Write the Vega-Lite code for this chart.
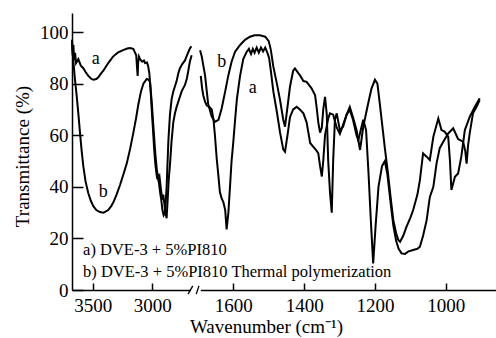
{
  "$schema": "https://vega.github.io/schema/vega-lite/v6.json",
  "autosize": {"type": "none"},
  "width": 424,
  "height": 277,
  "padding": {"left": 72, "top": 13, "right": 0, "bottom": 48},
  "background": "white",
  "config": {"view": {"stroke": null}, "font": "Liberation Serif"},
  "datasets": {
    "curves": [
      {"w":3674,"t":97,"g":"aL"},{"w":3668,"t":91,"g":"aL"},{"w":3662,"t":95,"g":"aL"},{"w":3656,"t":89,"g":"aL"},{"w":3648,"t":92,"g":"aL"},{"w":3640,"t":88,"g":"aL"},{"w":3621,"t":89.5,"g":"aL"},{"w":3600,"t":87,"g":"aL"},{"w":3579,"t":86,"g":"aL"},{"w":3560,"t":84.5,"g":"aL"},{"w":3537,"t":83,"g":"aL"},{"w":3515,"t":82,"g":"aL"},{"w":3495,"t":81.5,"g":"aL"},{"w":3470,"t":81.8,"g":"aL"},{"w":3453,"t":82.5,"g":"aL"},{"w":3430,"t":84,"g":"aL"},{"w":3411,"t":85,"g":"aL"},{"w":3370,"t":88,"g":"aL"},{"w":3330,"t":90.5,"g":"aL"},{"w":3290,"t":92,"g":"aL"},{"w":3246,"t":93,"g":"aL"},{"w":3210,"t":93.6,"g":"aL"},{"w":3187,"t":93.8,"g":"aL"},{"w":3160,"t":93.5,"g":"aL"},{"w":3150,"t":92.5,"g":"aL"},{"w":3135,"t":91,"g":"aL"},{"w":3128,"t":86,"g":"aL"},{"w":3123,"t":83,"g":"aL"},{"w":3119,"t":88,"g":"aL"},{"w":3112,"t":90.5,"g":"aL"},{"w":3103,"t":89.5,"g":"aL"},{"w":3085,"t":88.5,"g":"aL"},{"w":3070,"t":89,"g":"aL"},{"w":3061,"t":88,"g":"aL"},{"w":3045,"t":88.2,"g":"aL"},{"w":3036,"t":87,"g":"aL"},{"w":3025,"t":84,"g":"aL"},{"w":3015,"t":78,"g":"aL"},{"w":3005,"t":70,"g":"aL"},{"w":2994,"t":62,"g":"aL"},{"w":2985,"t":55,"g":"aL"},{"w":2975,"t":49,"g":"aL"},{"w":2965,"t":45,"g":"aL"},{"w":2958,"t":43,"g":"aL"},{"w":2950,"t":45,"g":"aL"},{"w":2943,"t":41,"g":"aL"},{"w":2935,"t":38,"g":"aL"},{"w":2925,"t":35,"g":"aL"},{"w":2915,"t":31,"g":"aL"},{"w":2905,"t":29,"g":"aL"},{"w":2893,"t":30,"g":"aL"},{"w":2880,"t":40,"g":"aL"},{"w":2865,"t":58,"g":"aL"},{"w":2852,"t":68,"g":"aL"},{"w":2838,"t":74,"g":"aL"},{"w":2824,"t":77,"g":"aL"},{"w":2810,"t":79,"g":"aL"},{"w":2796,"t":81,"g":"aL"},{"w":2782,"t":84,"g":"aL"},{"w":2768,"t":86,"g":"aL"},{"w":2750,"t":87.5,"g":"aL"},{"w":2726,"t":89,"g":"aL"},{"w":2705,"t":91.5,"g":"aL"},{"w":2684,"t":93.7,"g":"aL"},{"w":2672,"t":94.5,"g":"aL"},

      {"w":3674,"t":96,"g":"bL"},{"w":3665,"t":90,"g":"bL"},{"w":3650,"t":82,"g":"bL"},{"w":3634,"t":75,"g":"bL"},{"w":3620,"t":68,"g":"bL"},{"w":3607,"t":61,"g":"bL"},{"w":3593,"t":54,"g":"bL"},{"w":3579,"t":48,"g":"bL"},{"w":3560,"t":42,"g":"bL"},{"w":3537,"t":37.5,"g":"bL"},{"w":3515,"t":34.5,"g":"bL"},{"w":3495,"t":32.5,"g":"bL"},{"w":3470,"t":31,"g":"bL"},{"w":3439,"t":30.2,"g":"bL"},{"w":3410,"t":30,"g":"bL"},{"w":3397,"t":30.3,"g":"bL"},{"w":3370,"t":31,"g":"bL"},{"w":3345,"t":32.5,"g":"bL"},{"w":3327,"t":34,"g":"bL"},{"w":3300,"t":37,"g":"bL"},{"w":3271,"t":40.7,"g":"bL"},{"w":3245,"t":44.5,"g":"bL"},{"w":3215,"t":49,"g":"bL"},{"w":3185,"t":55,"g":"bL"},{"w":3159,"t":61,"g":"bL"},{"w":3135,"t":67,"g":"bL"},{"w":3117,"t":72,"g":"bL"},{"w":3095,"t":77,"g":"bL"},{"w":3075,"t":80,"g":"bL"},{"w":3047,"t":81.8,"g":"bL"},{"w":3030,"t":81.5,"g":"bL"},{"w":3019,"t":80.5,"g":"bL"},{"w":3005,"t":73,"g":"bL"},{"w":2992,"t":64,"g":"bL"},{"w":2975,"t":53,"g":"bL"},{"w":2963,"t":47,"g":"bL"},{"w":2950,"t":43,"g":"bL"},{"w":2940,"t":44,"g":"bL"},{"w":2935,"t":42,"g":"bL"},{"w":2925,"t":38,"g":"bL"},{"w":2915,"t":35,"g":"bL"},{"w":2908,"t":37,"g":"bL"},{"w":2900,"t":34,"g":"bL"},{"w":2893,"t":31,"g":"bL"},{"w":2880,"t":27.8,"g":"bL"},{"w":2870,"t":36,"g":"bL"},{"w":2862,"t":43,"g":"bL"},{"w":2852,"t":48.5,"g":"bL"},{"w":2838,"t":58,"g":"bL"},{"w":2824,"t":65,"g":"bL"},{"w":2810,"t":68.5,"g":"bL"},{"w":2796,"t":71,"g":"bL"},{"w":2775,"t":74,"g":"bL"},{"w":2754,"t":77,"g":"bL"},{"w":2726,"t":79.5,"g":"bL"},{"w":2710,"t":82,"g":"bL"},{"w":2698,"t":85,"g":"bL"},{"w":2685,"t":88.5,"g":"bL"},{"w":2670,"t":91,"g":"bL"},

      {"w":1692,"t":83,"g":"aR"},{"w":1688,"t":78,"g":"aR"},{"w":1685,"t":75.5,"g":"aR"},{"w":1680,"t":73,"g":"aR"},{"w":1675,"t":71.5,"g":"aR"},{"w":1668,"t":71,"g":"aR"},{"w":1661,"t":70,"g":"aR"},{"w":1656,"t":66,"g":"aR"},{"w":1652,"t":60,"g":"aR"},{"w":1647,"t":51,"g":"aR"},{"w":1642,"t":44,"g":"aR"},{"w":1638,"t":38,"g":"aR"},{"w":1633,"t":35.5,"g":"aR"},{"w":1628,"t":34,"g":"aR"},{"w":1623,"t":31,"g":"aR"},{"w":1619,"t":23.5,"g":"aR"},{"w":1614,"t":30,"g":"aR"},{"w":1609,"t":41,"g":"aR"},{"w":1605,"t":50,"g":"aR"},{"w":1600,"t":57.5,"g":"aR"},{"w":1595,"t":66,"g":"aR"},{"w":1590,"t":74,"g":"aR"},{"w":1581,"t":83,"g":"aR"},{"w":1572,"t":89.5,"g":"aR"},{"w":1562,"t":92.4,"g":"aR"},{"w":1556,"t":93.5,"g":"aR"},{"w":1550,"t":91.5,"g":"aR"},{"w":1545,"t":93.5,"g":"aR"},{"w":1540,"t":92,"g":"aR"},{"w":1534,"t":94,"g":"aR"},{"w":1528,"t":92,"g":"aR"},{"w":1522,"t":94,"g":"aR"},{"w":1516,"t":92.5,"g":"aR"},{"w":1510,"t":94,"g":"aR"},{"w":1504,"t":92,"g":"aR"},{"w":1499,"t":90,"g":"aR"},{"w":1494,"t":85,"g":"aR"},{"w":1487,"t":77,"g":"aR"},{"w":1477,"t":69,"g":"aR"},{"w":1468,"t":61,"g":"aR"},{"w":1459,"t":54.5,"g":"aR"},{"w":1454,"t":53.6,"g":"aR"},{"w":1447,"t":60,"g":"aR"},{"w":1440,"t":67,"g":"aR"},{"w":1431,"t":70,"g":"aR"},{"w":1421,"t":71,"g":"aR"},{"w":1412,"t":70,"g":"aR"},{"w":1402,"t":68.5,"g":"aR"},{"w":1393,"t":65,"g":"aR"},{"w":1388,"t":61,"g":"aR"},{"w":1383,"t":57,"g":"aR"},{"w":1374,"t":55.5,"g":"aR"},{"w":1365,"t":54,"g":"aR"},{"w":1360,"t":53,"g":"aR"},{"w":1355,"t":48,"g":"aR"},{"w":1350,"t":44,"g":"aR"},{"w":1346,"t":50,"g":"aR"},{"w":1341,"t":60,"g":"aR"},{"w":1332,"t":66.5,"g":"aR"},{"w":1327,"t":68.5,"g":"aR"},{"w":1318,"t":68,"g":"aR"},{"w":1308,"t":63,"g":"aR"},{"w":1299,"t":60.5,"g":"aR"},{"w":1290,"t":64,"g":"aR"},{"w":1280,"t":68,"g":"aR"},{"w":1271,"t":69.8,"g":"aR"},{"w":1262,"t":66,"g":"aR"},{"w":1252,"t":60,"g":"aR"},{"w":1247,"t":58,"g":"aR"},{"w":1240,"t":62,"g":"aR"},{"w":1233,"t":66,"g":"aR"},{"w":1225,"t":62,"g":"aR"},{"w":1218,"t":45,"g":"aR"},{"w":1212,"t":28,"g":"aR"},{"w":1205,"t":10.3,"g":"aR"},{"w":1198,"t":25,"g":"aR"},{"w":1190,"t":40,"g":"aR"},{"w":1180,"t":48,"g":"aR"},{"w":1172,"t":50,"g":"aR"},{"w":1165,"t":45,"g":"aR"},{"w":1155,"t":33,"g":"aR"},{"w":1148,"t":25,"g":"aR"},{"w":1140,"t":19,"g":"aR"},{"w":1133,"t":16,"g":"aR"},{"w":1125,"t":14.2,"g":"aR"},{"w":1115,"t":14,"g":"aR"},{"w":1105,"t":15,"g":"aR"},{"w":1092,"t":15.5,"g":"aR"},{"w":1080,"t":16,"g":"aR"},{"w":1073,"t":16.8,"g":"aR"},{"w":1064,"t":21,"g":"aR"},{"w":1054,"t":27,"g":"aR"},{"w":1045,"t":36,"g":"aR"},{"w":1035,"t":40,"g":"aR"},{"w":1026,"t":49,"g":"aR"},{"w":1017,"t":55,"g":"aR"},{"w":1007,"t":57.5,"g":"aR"},{"w":993,"t":60.7,"g":"aR"},{"w":979,"t":62.7,"g":"aR"},{"w":970,"t":60,"g":"aR"},{"w":965,"t":58.5,"g":"aR"},{"w":951,"t":57.5,"g":"aR"},{"w":945,"t":54,"g":"aR"},{"w":941,"t":49,"g":"aR"},{"w":937,"t":56,"g":"aR"},{"w":932,"t":61,"g":"aR"},{"w":923,"t":68.5,"g":"aR"},{"w":913,"t":71,"g":"aR"},{"w":904,"t":73.6,"g":"aR"},

      {"w":1694,"t":93,"g":"bR"},{"w":1689,"t":90.4,"g":"bR"},{"w":1685,"t":87.2,"g":"bR"},{"w":1680,"t":83.3,"g":"bR"},{"w":1675,"t":77,"g":"bR"},{"w":1671,"t":72,"g":"bR"},{"w":1661,"t":67.2,"g":"bR"},{"w":1652,"t":65.2,"g":"bR"},{"w":1642,"t":66,"g":"bR"},{"w":1633,"t":70.4,"g":"bR"},{"w":1623,"t":77,"g":"bR"},{"w":1614,"t":83.3,"g":"bR"},{"w":1605,"t":88.5,"g":"bR"},{"w":1595,"t":92.4,"g":"bR"},{"w":1581,"t":95,"g":"bR"},{"w":1567,"t":97,"g":"bR"},{"w":1553,"t":98.2,"g":"bR"},{"w":1540,"t":98.8,"g":"bR"},{"w":1525,"t":98.8,"g":"bR"},{"w":1510,"t":98.2,"g":"bR"},{"w":1500,"t":96.5,"g":"bR"},{"w":1494,"t":93,"g":"bR"},{"w":1487,"t":86.6,"g":"bR"},{"w":1477,"t":80,"g":"bR"},{"w":1468,"t":73.6,"g":"bR"},{"w":1459,"t":66,"g":"bR"},{"w":1454,"t":63.3,"g":"bR"},{"w":1447,"t":71,"g":"bR"},{"w":1440,"t":78.8,"g":"bR"},{"w":1431,"t":85,"g":"bR"},{"w":1426,"t":85.9,"g":"bR"},{"w":1416,"t":84,"g":"bR"},{"w":1412,"t":83.3,"g":"bR"},{"w":1402,"t":81,"g":"bR"},{"w":1393,"t":80.7,"g":"bR"},{"w":1379,"t":78.2,"g":"bR"},{"w":1369,"t":75.5,"g":"bR"},{"w":1364,"t":70,"g":"bR"},{"w":1360,"t":65,"g":"bR"},{"w":1355,"t":61,"g":"bR"},{"w":1350,"t":63,"g":"bR"},{"w":1346,"t":70,"g":"bR"},{"w":1341,"t":74.9,"g":"bR"},{"w":1336,"t":68,"g":"bR"},{"w":1332,"t":50,"g":"bR"},{"w":1327,"t":38,"g":"bR"},{"w":1322,"t":30,"g":"bR"},{"w":1318,"t":50,"g":"bR"},{"w":1313,"t":66,"g":"bR"},{"w":1308,"t":68.5,"g":"bR"},{"w":1299,"t":62,"g":"bR"},{"w":1290,"t":63.3,"g":"bR"},{"w":1280,"t":68,"g":"bR"},{"w":1271,"t":71,"g":"bR"},{"w":1262,"t":67,"g":"bR"},{"w":1252,"t":62,"g":"bR"},{"w":1242,"t":54.3,"g":"bR"},{"w":1233,"t":63.3,"g":"bR"},{"w":1219,"t":72.4,"g":"bR"},{"w":1210,"t":78,"g":"bR"},{"w":1200,"t":81.5,"g":"bR"},{"w":1193,"t":80,"g":"bR"},{"w":1186,"t":72,"g":"bR"},{"w":1172,"t":55,"g":"bR"},{"w":1163,"t":45,"g":"bR"},{"w":1155,"t":35,"g":"bR"},{"w":1148,"t":27,"g":"bR"},{"w":1140,"t":22,"g":"bR"},{"w":1134,"t":19.4,"g":"bR"},{"w":1129,"t":18.7,"g":"bR"},{"w":1120,"t":21,"g":"bR"},{"w":1111,"t":24.5,"g":"bR"},{"w":1100,"t":28,"g":"bR"},{"w":1092,"t":31,"g":"bR"},{"w":1080,"t":37,"g":"bR"},{"w":1073,"t":42.6,"g":"bR"},{"w":1064,"t":53,"g":"bR"},{"w":1054,"t":51.7,"g":"bR"},{"w":1045,"t":50.4,"g":"bR"},{"w":1035,"t":59.4,"g":"bR"},{"w":1021,"t":66.5,"g":"bR"},{"w":1012,"t":62,"g":"bR"},{"w":1003,"t":61.4,"g":"bR"},{"w":993,"t":59.4,"g":"bR"},{"w":988,"t":50,"g":"bR"},{"w":984,"t":38.8,"g":"bR"},{"w":974,"t":43.9,"g":"bR"},{"w":965,"t":45.2,"g":"bR"},{"w":956,"t":51.7,"g":"bR"},{"w":946,"t":62,"g":"bR"},{"w":932,"t":67.2,"g":"bR"},{"w":918,"t":71,"g":"bR"},{"w":904,"t":74.3,"g":"bR"}
    ],
    "curveLabels": [
      {"w":3475,"t":89.5,"txt":"a"},
      {"w":3411,"t":38.1,"txt":"b"},
      {"w":1633,"t":88.5,"txt":"b"},
      {"w":1545,"t":78.2,"txt":"a"}
    ],
    "legend": [
      {"w":3581,"t":15.5,"txt":"a) DVE-3 + 5%PI810"},
      {"w":3581,"t":7,"txt":"b) DVE-3 + 5%PI810 Thermal polymerization"}
    ],
    "gap": [{"w1":2678,"w2":1692,"t":0}],
    "slashes": [
      {"w1":2700,"w2":2560,"t1":-1.6,"t2":1.6},
      {"w1":2080,"w2":1700,"t1":-1.6,"t2":1.6}
    ]
  },
  "layer": [
    {
      "data": {"name": "curves"},
      "mark": {"type": "line", "color": "black", "strokeWidth": 2, "clip": false},
      "encoding": {
        "x": {
          "field": "w", "type": "quantitative",
          "scale": {"domain": [3674, 2667, 1697, 858], "range": [0, 120, 127, 424], "nice": false, "zero": false},
          "axis": {
            "values": [3500, 3000, 1600, 1400, 1200, 1000],
            "format": "d",
            "grid": false,
            "domainColor": "black", "domainWidth": 1.5,
            "tickColor": "black", "tickWidth": 1.5, "tickSize": -7,
            "labelFont": "Liberation Serif", "labelFontSize": 19, "labelColor": "black", "labelPadding": 13,
            "labelOverlap": false, "labelFlush": false,
            "title": "Wavenumber (cm⁻¹)",
            "titleFont": "Liberation Serif", "titleFontSize": 19, "titleFontWeight": "normal", "titleColor": "black",
            "titleX": 194, "titleY": 36, "titleAlign": "center", "titleBaseline": "middle", "titleAnchor": null
          }
        },
        "y": {
          "field": "t", "type": "quantitative",
          "scale": {"domain": [0, 107.4], "nice": false, "zero": false},
          "axis": {
            "values": [0, 20, 40, 60, 80, 100],
            "grid": false,
            "domainColor": "black", "domainWidth": 1.5,
            "tickColor": "black", "tickWidth": 1.5, "tickSize": -11,
            "labelFont": "Liberation Serif", "labelFontSize": 19, "labelColor": "black", "labelPadding": 15,
            "labelOverlap": false,
            "title": "Transmittance (%)",
            "titleFont": "Liberation Serif", "titleFontSize": 19, "titleFontWeight": "normal", "titleColor": "black",
            "titleX": -50, "titleY": 143, "titleAngle": 270, "titleAlign": "center", "titleBaseline": "middle", "titleAnchor": null
          }
        },
        "detail": {"field": "g", "type": "nominal"}
      }
    },
    {
      "data": {"name": "gap"},
      "mark": {"type": "rule", "color": "white", "strokeWidth": 4, "clip": false},
      "encoding": {
        "x": {"field": "w1", "type": "quantitative"},
        "x2": {"field": "w2"},
        "y": {"field": "t", "type": "quantitative"}
      }
    },
    {
      "data": {"name": "slashes"},
      "mark": {"type": "rule", "color": "black", "strokeWidth": 1.3, "clip": false},
      "encoding": {
        "x": {"field": "w1", "type": "quantitative"},
        "x2": {"field": "w2"},
        "y": {"field": "t1", "type": "quantitative"},
        "y2": {"field": "t2"}
      }
    },
    {
      "data": {"name": "curveLabels"},
      "mark": {"type": "text", "font": "Liberation Serif", "fontSize": 18, "color": "black", "align": "center", "baseline": "middle"},
      "encoding": {
        "x": {"field": "w", "type": "quantitative"},
        "y": {"field": "t", "type": "quantitative"},
        "text": {"field": "txt"}
      }
    },
    {
      "data": {"name": "legend"},
      "mark": {"type": "text", "font": "Liberation Serif", "fontSize": 16.5, "color": "black", "align": "left", "baseline": "middle"},
      "encoding": {
        "x": {"field": "w", "type": "quantitative"},
        "y": {"field": "t", "type": "quantitative"},
        "text": {"field": "txt"}
      }
    }
  ]
}
